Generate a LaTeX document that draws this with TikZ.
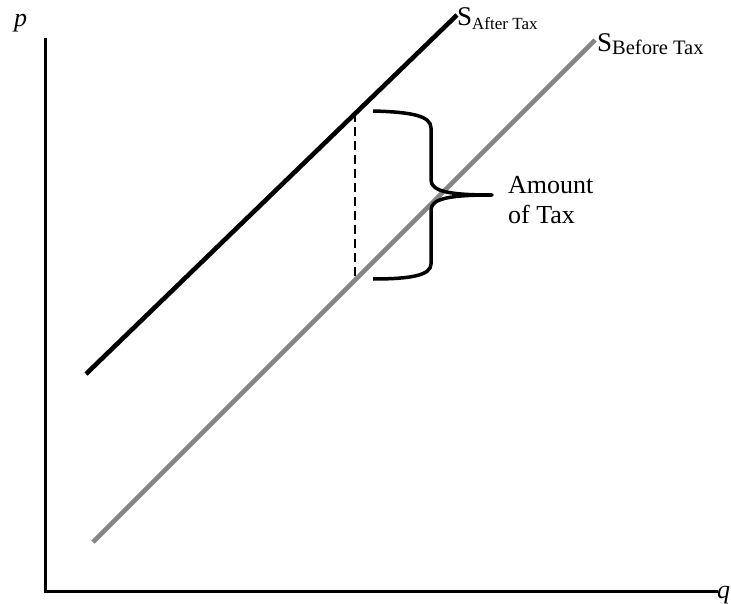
\documentclass[tikz,border=0pt]{standalone}
\usepackage{fontspec}
\setmainfont{Liberation Serif}
\begin{document}
\begin{tikzpicture}[x=1pt,y=-1pt,
  axis/.style={line width=3pt, line cap=rect},
  supafter/.style={line width=4.6pt, black},
  supbefore/.style={line width=4.6pt, color=gray!95},
  taxline/.style={line width=1.8pt, dash pattern=on 9pt off 5pt},
  bracestyle/.style={line width=3.5pt, line join=round},
  lbl/.style={inner sep=0pt, font=\fontsize{26}{30}\selectfont},
  sublbl/.style={inner sep=0pt, font=\fontsize{27}{30}\selectfont}]
\useasboundingbox (0,0) rectangle (731,604);
% axes
\coordinate (O) at (45.5,591.5);
\coordinate (ytop) at (45.5,40);
\coordinate (xend) at (716,591.5);
\draw[axis] (ytop) -- (O) -- (xend);
\node[lbl, anchor=base west, font=\fontsize{26}{30}\selectfont\itshape] (plbl) at (14,27) {p};
\node[lbl, anchor=base west, font=\fontsize{26}{30}\selectfont\itshape] (qlbl) at (717,598) {q};
% supply lines
\coordinate (a1) at (86,374);
\coordinate (a2) at (457,15);
\draw[supafter] (a1) -- (a2);
\coordinate (b1) at (93,542);
\coordinate (b2) at (595,40);
\draw[supbefore] (b1) -- (b2);
% labels
\node[sublbl, anchor=base west] (safter) at (457,26) {S\raisebox{-0.25ex}{\fontsize{17}{17}\selectfont After Tax}};
\node[sublbl, anchor=base west] (sbefore) at (597,52) {S\raisebox{-0.2ex}{\fontsize{20.5}{20}\selectfont Before Tax}};
% dashed tax
\coordinate (d1) at (355,113);
\coordinate (d2) at (355,280);
\draw[taxline] (d1) -- (d2);
% brace
\coordinate (br1) at (373,111);
\coordinate (br2) at (373,279);
\coordinate (tip) at (492,195);
\draw[bracestyle] (br1) .. controls (412,112) and (431,116) .. (431,128)
  -- (431,180) .. controls (431,192) and (452,195) .. (tip)
  .. controls (452,195) and (431,198) .. (431,210)
  -- (431,264) .. controls (431,275) and (412,279) .. (br2);
\node[lbl, anchor=north west, align=left] (amt) at (508,176) {Amount\\of Tax};
\end{tikzpicture}
\end{document}
